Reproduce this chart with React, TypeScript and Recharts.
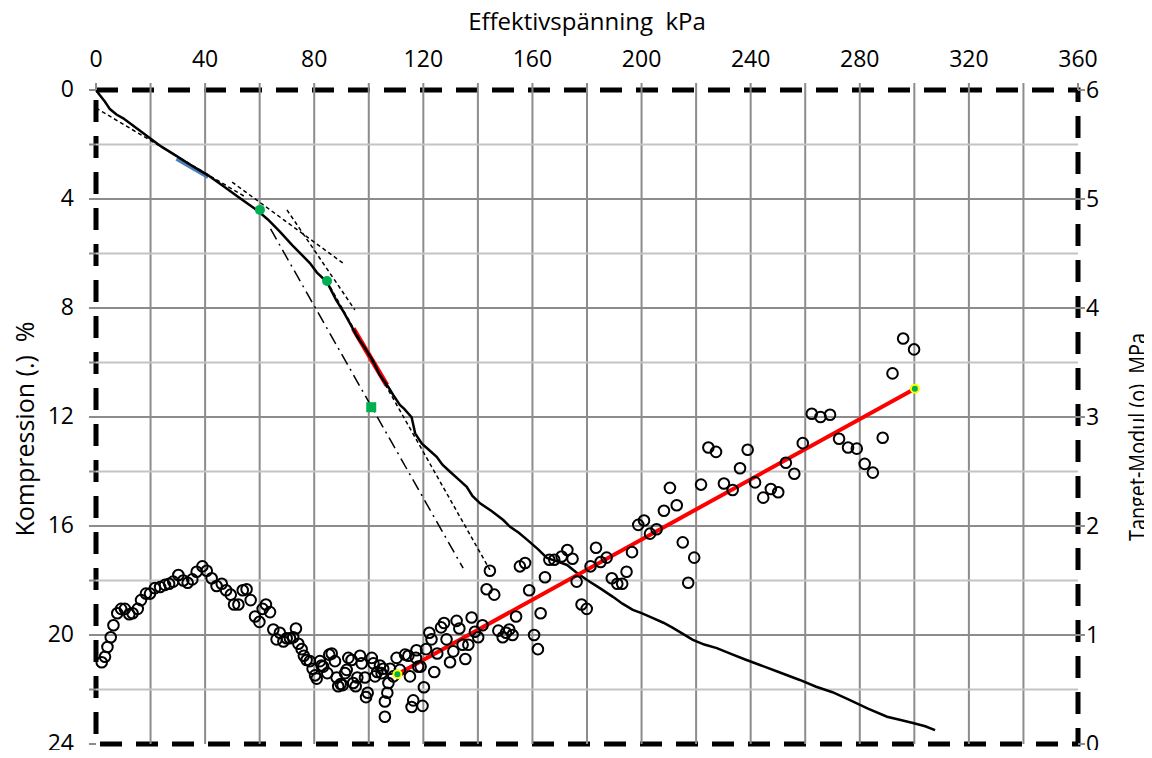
import {
  ComposedChart,
  Line,
  Scatter,
  XAxis,
  YAxis,
  ReferenceLine,
  ReferenceArea,
  ReferenceDot,
} from 'recharts'

// axis ticks and grid positions
const stressTicks = [0, 20, 40, 60, 80, 100, 120, 140, 160, 180, 200, 220, 240, 260, 280, 300, 320, 340, 360]
const compressionTicks = [0, 2, 4, 6, 8, 10, 12, 14, 16, 18, 20, 22, 24]
const modulusTicks = [0, 1, 2, 3, 4, 5, 6]
const stressGrid = [20, 40, 60, 80, 100, 120, 140, 160, 180, 200, 220, 240, 260, 280, 300, 320, 340]
const compressionGrid = [2, 4, 6, 8, 10, 12, 14, 16, 18, 20, 22]

// compression curve [kPa, %]
const compressionCurve = [
  [0, 0], [1.5, 0.2], [3.3, 0.43], [5.1, 0.7], [7.5, 0.9], [10, 1.04], [14.9, 1.4], [19.8, 1.77],
  [24, 2.08], [29, 2.39], [35, 2.77], [41.2, 3.14], [47, 3.55], [52.8, 3.97], [58.9, 4.4],
  [63, 4.75], [67.4, 5.2], [72, 5.7], [78.4, 6.35], [81, 6.7], [84.7, 7.05], [88, 7.7],
  [90.5, 8.1], [93.1, 8.56], [96, 9.1], [98.5, 9.45], [101.7, 9.97], [104, 10.45], [107.1, 10.89],
  [109, 11.2], [111.4, 11.56], [113, 11.7], [115.7, 12.01], [117, 12.6], [119.4, 12.97],
  [122, 13.2], [124.9, 13.46], [127, 13.75], [129.8, 14.01], [133, 14.3], [135.9, 14.56],
  [138, 14.9], [140.8, 15.17], [145, 15.45], [149.3, 15.78], [151.8, 16.03], [155, 16.25],
  [158, 16.5], [162, 16.85], [165.3, 17.17], [169, 17.3], [172.7, 17.43], [176, 17.7],
  [180, 17.98], [185, 18.3], [189.5, 18.6], [193, 18.85], [196.8, 19.08], [200, 19.2],
  [204.2, 19.38], [208, 19.55], [211.5, 19.74], [215, 19.95], [218.8, 20.18], [223, 20.35],
  [227.6, 20.48], [233, 20.7], [238, 20.9], [243.4, 21.1], [250, 21.35], [258, 21.65],
  [264, 21.9], [270, 22.1], [276.4, 22.39], [283, 22.7], [290, 23.0], [295, 23.12],
  [299.5, 23.23], [304, 23.35], [307.6, 23.49],
]

// construction lines on the compression curve [kPa, %]
const tangentLow = [[0, 0.66], [55, 3.94]]
const tangentMid = [[49.9, 3.38], [90.5, 6.35]]
const tangentUpper = [[70, 4.4], [94.9, 8.07]]
const tangentSteep = [[85.8, 7.22], [144.4, 17.61]]
const offsetLine = [[64, 5.1], [134.6, 17.55]]
const blueSection = [[29.6, 2.51], [41.2, 3.18]]
const redSection = [[94.3, 8.75], [106.6, 10.83]]

// marked points on the compression curve [kPa, %]
const markCircles = [[60.1, 4.4], [84.7, 7.01]]
const markSquare = [100.9, 11.64]

// tangent modulus [kPa, MPa]
const modulusPoints = [
  [2.1, 0.75], [3.3, 0.8], [4.2, 0.89], [5.4, 0.98], [6.4, 1.09], [7.8, 1.2], [9.2, 1.24], [10.6, 1.24],
  [12.2, 1.19], [13.4, 1.2], [15.3, 1.24], [16.5, 1.32], [18.3, 1.38], [19.8, 1.38], [21.6, 1.43],
  [23.5, 1.44], [25.3, 1.46], [26.8, 1.47], [28.3, 1.49], [30.2, 1.55], [32.0, 1.5], [33.6, 1.48],
  [35.3, 1.51], [36.9, 1.58], [39.0, 1.63], [40.6, 1.59], [42.4, 1.52], [44.2, 1.45], [46.1, 1.47],
  [47.7, 1.41], [49.4, 1.37], [50.6, 1.28], [52.2, 1.28], [53.8, 1.41], [55.2, 1.42], [56.7, 1.32],
  [58.3, 1.17], [59.9, 1.12], [61.1, 1.24], [62.3, 1.28], [63.8, 1.21], [65.0, 1.05], [66.2, 0.96],
  [67.4, 1.02], [68.7, 0.94], [69.9, 0.97], [71.1, 0.97], [72.3, 0.98], [73.3, 1.06], [74.2, 0.92],
  [75.4, 0.87], [76.2, 0.81], [77.2, 0.77], [78.4, 0.76], [79.4, 0.69], [80.3, 0.63], [80.9, 0.6],
  [82.1, 0.76], [82.7, 0.72], [83.3, 0.71], [84.8, 0.65], [85.5, 0.82], [86.4, 0.83], [87.6, 0.76],
  [88.2, 0.61], [88.8, 0.53], [89.7, 0.55], [90.4, 0.54], [91.3, 0.65], [91.9, 0.68], [92.5, 0.79],
  [93.7, 0.77], [94.3, 0.56], [95.2, 0.53], [95.8, 0.61], [96.8, 0.81], [97.4, 0.74], [98.6, 0.61],
  [99.0, 0.43], [99.6, 0.47], [101.1, 0.79], [101.7, 0.74], [102.3, 0.62], [103.1, 0.66],
  [104.1, 0.72], [104.7, 0.65], [105.3, 0.69], [105.9, 0.39], [105.9, 0.25], [106.8, 0.47],
  [107.2, 0.56], [107.8, 0.69], [109.0, 0.62], [110.2, 0.79], [111.4, 0.68], [113.3, 0.82],
  [114.5, 0.81], [115.1, 0.62], [115.7, 0.34], [116.3, 0.4], [117.3, 0.79], [117.5, 0.86],
  [118.1, 0.71], [119.0, 0.71], [119.7, 0.35], [120.2, 0.52], [121.0, 0.87], [122.2, 1.02],
  [123.0, 0.96], [124.0, 0.66], [125.1, 0.83], [126.5, 1.07], [127.6, 1.11], [128.5, 0.96],
  [129.8, 0.75], [131.0, 0.85], [132.2, 1.13], [133.2, 1.06], [134.4, 0.91], [135.4, 0.78],
  [136.5, 0.91], [137.7, 1.16], [138.9, 1.03], [140.1, 0.98], [141.7, 1.09], [143.2, 1.42],
  [144.4, 1.59], [146.0, 1.37], [147.5, 1.04], [149.1, 0.98], [150.3, 1.02], [151.5, 1.05],
  [152.7, 1.0], [154.0, 1.17], [155.4, 1.63], [157.3, 1.66], [158.8, 1.41], [160.6, 1.0],
  [162.0, 0.87], [163.0, 1.2], [164.6, 1.53], [166.2, 1.69], [168.0, 1.69], [170.7, 1.72],
  [172.8, 1.78], [174.7, 1.7], [176.2, 1.49], [178.0, 1.28], [179.9, 1.24], [181.3, 1.63],
  [183.3, 1.8], [185.0, 1.67], [187.2, 1.71], [189.1, 1.52], [191.1, 1.47], [192.9, 1.47],
  [194.5, 1.58], [196.5, 1.76], [198.8, 2.01], [200.9, 2.05], [203.1, 1.93], [205.5, 1.97],
  [208.2, 2.14], [210.4, 2.35], [212.9, 2.19], [215.1, 1.85], [217.1, 1.48], [219.3, 1.71],
  [221.8, 2.38], [224.5, 2.72], [227.3, 2.68], [230.2, 2.39], [233.4, 2.33], [236.1, 2.53],
  [238.9, 2.7], [241.6, 2.4], [244.6, 2.26], [247.4, 2.34], [250.1, 2.31], [252.9, 2.58],
  [256.0, 2.48], [259.1, 2.76], [262.4, 3.03], [265.6, 3.0], [269.1, 3.02], [272.4, 2.8],
  [275.7, 2.72], [278.9, 2.71], [281.8, 2.57], [284.8, 2.49], [288.4, 2.81], [292.0, 3.4],
  [295.9, 3.72], [299.9, 3.62],
]

// linear fit of the modulus [kPa, MPa]
const modulusFit = [[110.5, 0.64], [300.2, 3.26]]

const toXY = (pts: number[][]) => pts.map(([x, y]) => ({ x, y }))

const font = '"Open Sans", sans-serif'
const fontSize = 23

// tick text only on every other grid position; the tick mark stays on all of them
const sparseTick = (anchor: 'middle' | 'end', every: number) => (props: any) => {
  const { x, y, payload } = props
  if (payload.value % every !== 0) return <g />
  return (
    <text x={x} y={y} dy={anchor === 'end' ? '0.3em' : 0} textAnchor={anchor}
      fontFamily={font} fontSize={fontSize} fill="#000">
      {payload.value}
    </text>
  )
}

const OpenCircle = (props: any) => (
  <circle cx={props.cx} cy={props.cy} r={5.3} fill="none" stroke="#000" strokeWidth={2} />
)

const SquareMark = (props: any) => (
  <rect x={props.cx - 5} y={props.cy - 5} width={10} height={10} fill="#00b050" />
)

const labelBase = {
  position: 'absolute' as const,
  fontFamily: font,
  fontSize,
  whiteSpace: 'pre' as const,
}

// vertical axis titles read bottom to top
const verticalLabel = {
  ...labelBase,
  writingMode: 'vertical-rl' as const,
}

export default function App() {
  return (
    <div style={{ position: 'relative', width: 1144, height: 750, marginBottom: -8 }}>
      <ComposedChart width={1144} height={750} margin={{ top: 42, right: 0, bottom: 14, left: 0 }}>
        <XAxis
          xAxisId={0}
          dataKey="x"
          type="number"
          orientation="top"
          domain={[0, 360]}
          ticks={stressTicks}
          interval={0}
          height={40}
          axisLine={false}
          tickLine={{ stroke: '#8c8c8c', strokeWidth: 2 }}
          tickSize={7}
          tickMargin={16}
          tick={sparseTick('middle', 40)}
        />
        <YAxis
          yAxisId="left"
          dataKey="y"
          type="number"
          domain={[0, 24]}
          reversed
          ticks={compressionTicks}
          interval={0}
          width={88}
          axisLine={false}
          tickLine={{ stroke: '#8c8c8c', strokeWidth: 2 }}
          tickSize={7}
          tickMargin={15}
          tick={sparseTick('end', 4)}
        />
        <YAxis
          yAxisId="right"
          orientation="right"
          dataKey="y"
          type="number"
          domain={[0, 6]}
          ticks={modulusTicks}
          width={74}
          axisLine={false}
          tickLine={{ stroke: '#8c8c8c', strokeWidth: 2 }}
          tickSize={7}
          tickMargin={1}
          tick={{ fontFamily: font, fontSize, fill: '#000' }}
        />

        {stressGrid.map((v) => (
          <ReferenceLine key={'gx' + v} x={v} yAxisId="left" stroke="#8c8c8c" strokeWidth={2} />
        ))}
        {compressionGrid.map((v) => (
          <ReferenceLine
            key={'gy' + v}
            y={v}
            yAxisId="left"
            stroke={v % 4 === 0 ? '#8c8c8c' : '#c4c4c4'}
            strokeWidth={2}
          />
        ))}

        <Line data={toXY(blueSection)} dataKey="y" yAxisId="left" stroke="#4a7ebb" strokeWidth={5} dot={false} isAnimationActive={false} />
        <Line data={toXY(redSection)} dataKey="y" yAxisId="left" stroke="#ff0000" strokeWidth={5} dot={false} isAnimationActive={false} />
        <Line data={toXY(tangentLow)} dataKey="y" yAxisId="left" stroke="#000" strokeWidth={1.5} strokeDasharray="4 3" dot={false} isAnimationActive={false} />
        <Line data={toXY(tangentMid)} dataKey="y" yAxisId="left" stroke="#000" strokeWidth={1.5} strokeDasharray="4 3" dot={false} isAnimationActive={false} />
        <Line data={toXY(tangentUpper)} dataKey="y" yAxisId="left" stroke="#000" strokeWidth={1.5} strokeDasharray="4 3" dot={false} isAnimationActive={false} />
        <Line data={toXY(tangentSteep)} dataKey="y" yAxisId="left" stroke="#000" strokeWidth={1.5} strokeDasharray="4 3" dot={false} isAnimationActive={false} />
        <Line data={toXY(offsetLine)} dataKey="y" yAxisId="left" stroke="#000" strokeWidth={1.5} strokeDasharray="12 5 2 5" dot={false} isAnimationActive={false} />
        <Line data={toXY(compressionCurve)} dataKey="y" yAxisId="left" stroke="#000" strokeWidth={2.5} dot={false} isAnimationActive={false} />

        <Scatter data={toXY(modulusPoints)} yAxisId="right" shape={OpenCircle} isAnimationActive={false} />
        <Line data={toXY(modulusFit)} dataKey="y" yAxisId="right" stroke="#ff0000" strokeWidth={4} dot={false} isAnimationActive={false} />

        {markCircles.map(([x, y]) => (
          <ReferenceDot key={'m' + x} x={x} y={y} yAxisId="left" r={5} fill="#00b050" stroke="none" />
        ))}
        <ReferenceDot x={markSquare[0]} y={markSquare[1]} yAxisId="left" shape={SquareMark} />
        {modulusFit.map(([x, y]) => (
          <ReferenceDot key={'f' + x} x={x} y={y} yAxisId="right" r={4} fill="#00b050" stroke="#ffff00" strokeWidth={2} />
        ))}

        <ReferenceArea
          x1={0}
          x2={360}
          y1={0}
          y2={24}
          yAxisId="left"
          fill="none"
          fillOpacity={0}
          stroke="#000"
          strokeWidth={5}
          strokeDasharray="22 14"
          ifOverflow="visible"
        />
      </ComposedChart>

      <div style={{ ...labelBase, left: 579, top: 13, fontSize: 24, lineHeight: 1, transform: 'translate(-50%, -50%)' }}>
        {'Effektivspänning  kPa'}
      </div>
      <div style={{ ...verticalLabel, left: 16, top: 421, fontSize: 25, transform: 'translate(-50%, -50%) rotate(180deg)' }}>
        {'Kompression (.)  %'}
      </div>
      <div style={{ ...verticalLabel, left: 1129, top: 429, transform: 'translate(-50%, -50%) rotate(180deg) scaleY(0.86)' }}>
        {'Tanget-Modul (o)  MPa'}
      </div>
    </div>
  )
}
